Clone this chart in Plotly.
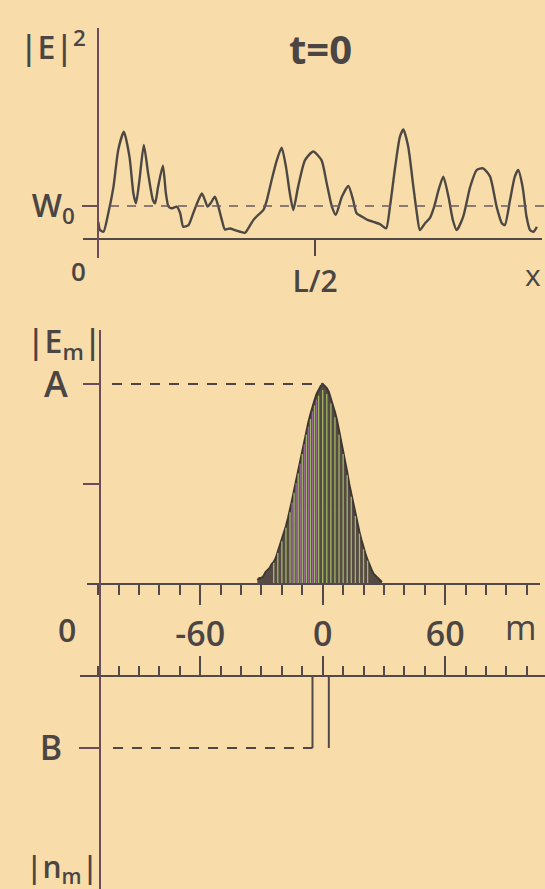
import plotly.graph_objects as go

W, H = 545, 889

# ---------------- data ----------------
# top panel: |E|^2 versus x (x in units of L, |E|^2 in units of W0)
x_over_L = [0.000, 0.004, 0.012, 0.023, 0.035, 0.046, 0.059, 0.072, 0.081, 0.087,
            0.095, 0.105, 0.115, 0.126, 0.131, 0.138, 0.149, 0.156, 0.162, 0.169,
            0.181, 0.189, 0.196, 0.208, 0.219, 0.231, 0.239, 0.246, 0.252, 0.259,
            0.269, 0.277, 0.285, 0.292, 0.304, 0.315, 0.327, 0.339, 0.346, 0.358,
            0.369, 0.381, 0.389, 0.400, 0.412, 0.423, 0.433, 0.442, 0.450, 0.461,
            0.477, 0.496, 0.515, 0.527, 0.539, 0.548, 0.562, 0.577, 0.588, 0.596,
            0.608, 0.621, 0.635, 0.650, 0.664, 0.673, 0.685, 0.696, 0.704, 0.715,
            0.727, 0.735, 0.742, 0.754, 0.765, 0.775, 0.785, 0.796, 0.808, 0.818,
            0.827, 0.842, 0.858, 0.873, 0.888, 0.904, 0.919, 0.931, 0.938, 0.950,
            0.961, 0.969, 0.979, 0.988, 0.996, 1.004, 1.012]
E2 = [0.52, 0.27, 0.22, 0.78, 1.58, 2.70, 3.25, 2.49, 1.38, 1.08,
      1.79, 2.85, 1.99, 1.18, 1.08, 1.58, 2.22, 1.38, 0.98, 0.93,
      0.98, 0.78, 0.37, 0.42, 0.78, 1.18, 1.38, 1.18, 0.98, 1.08,
      1.28, 0.98, 0.58, 0.29, 0.32, 0.27, 0.22, 0.19, 0.32, 0.58,
      0.73, 0.88, 1.18, 1.79, 2.39, 2.77, 2.19, 1.38, 0.88, 1.58,
      2.39, 2.65, 2.39, 1.69, 0.98, 0.73, 1.28, 1.61, 1.18, 0.78,
      0.68, 0.58, 0.52, 0.45, 0.32, 0.98, 2.19, 3.10, 3.32, 2.80,
      1.58, 0.78, 0.27, 0.48, 0.63, 0.98, 1.48, 1.89, 1.28, 0.58,
      0.27, 0.68, 1.58, 2.09, 2.14, 1.89, 0.98, 0.48, 0.42, 1.18,
      1.89, 2.09, 1.58, 0.68, 0.27, 0.22, 0.37]
W0 = 1.0
x_tick_vals = [0.5]
x_tick_text = ["L/2"]

# middle panel: |E_m| spectrum (units of A)
m_vals = list(range(-32, 30))
Em = [0.02, 0.03, 0.03, 0.04, 0.06, 0.07, 0.08, 0.10, 0.11, 0.13,
      0.16, 0.19, 0.22, 0.25, 0.29, 0.33, 0.37, 0.42, 0.47, 0.52,
      0.57, 0.62, 0.67, 0.72, 0.77, 0.81, 0.85, 0.89, 0.92, 0.95,
      0.97, 0.99, 1.00, 0.99, 0.98, 0.96, 0.93, 0.90, 0.86, 0.82,
      0.77, 0.72, 0.67, 0.61, 0.56, 0.50, 0.45, 0.40, 0.35, 0.30,
      0.26, 0.22, 0.18, 0.15, 0.12, 0.09, 0.07, 0.05, 0.04, 0.03,
      0.02, 0.01]
A = 1.0
m_major = [-60, 0, 60]
m_major_text = ["-60", "0", "60"]
m_minor = list(range(-110, 101, 10))

# bottom panel: |n_m| (units of B)
n_modes = [-5, 3]
n_vals = [1.0, 1.0]
B = 1.0

# ---------------- styling ----------------
BG = "#f8ddab"
INK = "#4b4543"
CURVE = "#4d4843"
YAX = "#6a4c5c"
XAX = "#52494a"
FONT = "Open Sans"


def px_x(p):
    return p / W


def px_y(p):
    return 1 - p / H


# pixel calibration
top_x0, top_Lpx = 98.3, 433.4          # x=0 pixel, pixels per L
top_base, top_w0px = 239.0, 33.0       # baseline pixel, pixels per W0
mid_m0, mid_ppu = 322.7, 2.042         # m=0 pixel, pixels per unit m
mid_base, mid_Apx = 584.0, 200.0       # baseline pixel, pixels per A
bot_base, bot_Bpx = 676.0, 72.0        # axis pixel, pixels per B


def m_at(p):
    return (p - mid_m0) / mid_ppu


fig = go.Figure()

# top curve
fig.add_trace(go.Scatter(x=x_over_L, y=E2, mode="lines", xaxis="x", yaxis="y",
                         line=dict(color=CURVE, width=2.4, shape="spline", smoothing=0.6),
                         hoverinfo="skip", showlegend=False))

# spectrum: filled envelope
fig.add_trace(go.Scatter(x=m_vals, y=Em, mode="lines", xaxis="x2", yaxis="y2",
                         fill="tozeroy", fillcolor="#574a44",
                         line=dict(color="#3d3830", width=2),
                         hoverinfo="skip", showlegend=False))

# spectral lines (individual harmonics), in two inks as printed
groups = {"#a7c46a": [], "#a66aaa": []}
for m, v in zip(m_vals, Em):
    if -16 <= m <= -3 and m % 2:
        key = "#a66aaa"
    elif m % 2 == 0 and -24 <= m <= 22:
        key = "#a7c46a"
    else:
        continue
    groups[key].append((m, v))
for col, pts in groups.items():
    gx, gy = [], []
    for m, v in pts:
        gx += [m, m, None]
        gy += [0, v * 0.97, None]
    fig.add_trace(go.Scatter(x=gx, y=gy, mode="lines", xaxis="x2", yaxis="y2",
                             line=dict(color=col, width=1.3), opacity=0.9,
                             hoverinfo="skip", showlegend=False))

# bottom: |n_m| lines
nx, ny = [], []
for mm, vv in zip(n_modes, n_vals):
    nx += [mm, mm, None]
    ny += [0, vv, None]
fig.add_trace(go.Scatter(x=nx, y=ny, mode="lines", xaxis="x3", yaxis="y3",
                         line=dict(color=XAX, width=2),
                         hoverinfo="skip", showlegend=False))

# reference dashed lines
peak_m = m_vals[Em.index(max(Em))]
shapes = [
    dict(type="line", xref="paper", yref="y", x0=px_x(110), x1=1.0, y0=W0, y1=W0,
         line=dict(color="#6a5a60", width=1.6, dash="9px,8px")),
    dict(type="line", xref="x2", yref="y2", x0=m_at(112), x1=peak_m, y0=max(Em), y1=max(Em),
         line=dict(color="#4f4646", width=1.8, dash="10px,9px")),
    dict(type="line", xref="x3", yref="y3", x0=m_at(113), x1=min(n_modes), y0=B, y1=B,
         line=dict(color="#4f4646", width=1.8, dash="10px,9px")),
]

tickfont = dict(family=FONT, size=34, color=INK, weight=600)

fig.update_layout(
    width=W, height=H, margin=dict(l=0, r=0, t=0, b=0),
    paper_bgcolor=BG, plot_bgcolor="rgba(0,0,0,0)",
    showlegend=False, shapes=shapes,
    xaxis=dict(domain=[px_x(83), px_x(542)],
               range=[(83 - top_x0) / top_Lpx, (542 - top_x0) / top_Lpx],
               anchor="free", position=px_y(top_base),
               showline=True, linecolor=XAX, linewidth=2,
               showgrid=False, zeroline=False,
               tickmode="array", tickvals=x_tick_vals, ticktext=x_tick_text,
               ticks="outside", ticklen=16, tickwidth=2, tickcolor=XAX,
               tickfont=dict(family=FONT, size=30, color=INK, weight=600),
               ticklabelstandoff=0, fixedrange=True),
    yaxis=dict(domain=[px_y(258), px_y(28)],
               range=[(top_base - 258) / top_w0px, (top_base - 28) / top_w0px],
               anchor="free", position=px_x(top_x0),
               showline=True, linecolor=YAX, linewidth=2,
               showgrid=False, zeroline=False,
               tickmode="array", tickvals=[W0], ticktext=["W<sub>0</sub>"],
               ticks="outside", ticklen=15, tickwidth=2, tickcolor=YAX,
               tickfont=dict(family=FONT, size=32, color=INK, weight=600),
               ticklabelstandoff=1, fixedrange=True),
    xaxis2=dict(domain=[px_x(86.7), px_x(540)],
                range=[m_at(86.7), m_at(540)],
                anchor="free", position=px_y(mid_base),
                showline=True, linecolor=XAX, linewidth=2,
                showgrid=False, zeroline=False,
                tickmode="array", tickvals=m_major, ticktext=m_major_text,
                ticks="outside", ticklen=20, tickwidth=2, tickcolor=XAX,
                minor=dict(tickmode="array", tickvals=m_minor, ticks="outside",
                           ticklen=10, tickwidth=1.6, tickcolor=XAX),
                tickfont=tickfont, ticklabelstandoff=0, fixedrange=True),
    yaxis2=dict(domain=[px_y(676), px_y(330)],
                range=[(mid_base - 676) / mid_Apx, (mid_base - 330) / mid_Apx],
                anchor="free", position=px_x(100),
                showline=True, linecolor=YAX, linewidth=2,
                showgrid=False, zeroline=False,
                tickmode="array", tickvals=[A], ticktext=["A"],
                ticks="outside", ticklen=16, tickwidth=2, tickcolor=YAX,
                minor=dict(tickmode="array", tickvals=[A / 2], ticks="outside",
                           ticklen=16, tickwidth=2, tickcolor=YAX),
                tickfont=dict(family=FONT, size=36, color=INK, weight=600),
                ticklabelstandoff=8, fixedrange=True),
    xaxis3=dict(domain=[px_x(80), px_x(545)],
                range=[m_at(80), m_at(545)],
                anchor="free", position=px_y(bot_base),
                showline=True, linecolor=XAX, linewidth=2,
                showgrid=False, zeroline=False,
                tickmode="array", tickvals=m_major,
                ticks="inside", ticklen=19, tickwidth=2, tickcolor=XAX,
                minor=dict(tickmode="array", tickvals=m_minor, ticks="inside",
                           ticklen=9, tickwidth=1.6, tickcolor=XAX),
                showticklabels=False, fixedrange=True),
    yaxis3=dict(domain=[0, px_y(bot_base)],
                range=[(H - bot_base) / bot_Bpx, 0],
                anchor="free", position=px_x(100),
                showline=True, linecolor=YAX, linewidth=2,
                showgrid=False, zeroline=False,
                tickmode="array", tickvals=[B], ticktext=["B"],
                ticks="outside", ticklen=20, tickwidth=2, tickcolor=YAX,
                tickfont=dict(family=FONT, size=34, color=INK, weight=600),
                ticklabelstandoff=10, fixedrange=True),
)


def label(text, x, y, size, weight=600, xanchor="center"):
    fig.add_annotation(text=text, x=px_x(x), y=px_y(y), xref="paper", yref="paper",
                       xanchor=xanchor, yanchor="middle", showarrow=False,
                       font=dict(family=FONT, size=size, color=INK, weight=weight))


label("|E|<sup>2</sup>", 53, 45, 32)
label("t=0", 320, 48, 40, weight=700)
label("0", 78, 271, 26)
label("x", 533, 274, 30, weight=500)
label("|E<sub>m</sub>|", 64, 343, 32)
label("0", 67, 629, 32)
label("m", 520, 627, 34, weight=500)
label("|n<sub>m</sub>|", 62, 868, 30)

fig.write_html("out.html", config={"displayModeBar": False},
               post_script="document.body.style.margin='0';document.body.style.padding='0';")
